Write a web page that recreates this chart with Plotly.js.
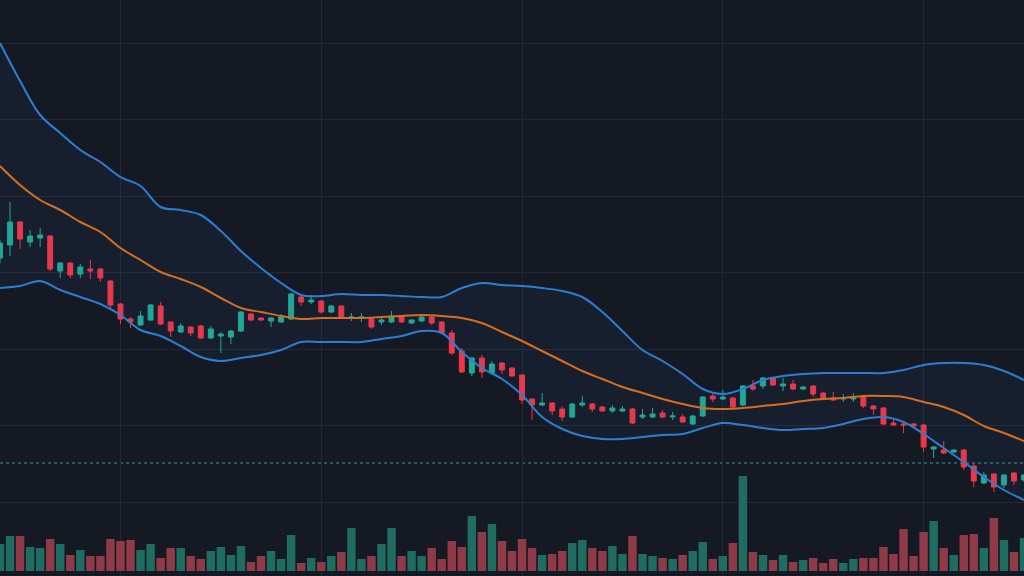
<!DOCTYPE html>
<html>
<head>
<meta charset="utf-8">
<script src="https://cdn.plot.ly/plotly-3.0.1.min.js"></script>
<style>
html,body{margin:0;padding:0;background:#151924;}
#chart{width:1024px;height:576px;}
</style>
</head>
<body>
<div id="chart"></div>
<script>
// candle index (time)
const idx = [0,1,2,3,4,5,6,7,8,9,10,11,12,13,14,15,16,17,18,19,20,21,22,23,24,25,26,27,28,29,30,31,32,33,34,35,36,37,38,39,40,41,42,43,44,45,46,47,48,49,50,51,52,53,54,55,56,57,58,59,60,61,62,63,64,65,66,67,68,69,70,71,72,73,74,75,76,77,78,79,80,81,82,83,84,85,86,87,88,89,90,91,92,93,94,95,96,97,98,99,100,101,102];

const open = [34.2,35.5,37.8,35.8,36.2,36.4,32.9,33.7,32.6,33.1,
  33.1,31.9,29.6,28.1,27.5,28.0,29.4,27.8,26.8,27.3,
  27.4,26.2,26.4,26.3,26.9,28.6,28.2,27.9,27.8,28.1,
  30.3,29.8,29.9,28.8,29.4,28.2,28.2,28.2,27.8,27.8,
  28.3,27.7,27.9,28.3,27.8,26.7,24.9,22.7,24.2,22.7,
  23.7,23.2,22.5,20.1,19.5,19.7,19.1,18.3,19.5,19.6,
  19.3,18.9,18.9,19.1,18.3,18.3,18.7,18.3,18.3,17.6,
  18.4,20.4,20.1,20.2,19.5,21.4,21.4,22.2,21.4,21.6,
  21.1,21.4,20.7,20.2,20.1,20.1,20.3,19.4,19.2,17.7,
  17.6,17.6,17.5,15.1,15.0,14.8,15.0,13.4,11.7,12.6,
  11.5,12.7,12.0];
const high = [36.0,39.8,37.9,37.0,37.2,36.5,33.8,33.8,33.6,34.0,
  33.2,32.0,29.7,28.3,28.9,29.6,29.8,27.9,27.7,27.4,
  27.5,27.4,26.8,27.0,28.9,28.7,28.3,28.3,28.6,30.7,
  30.5,30.5,30.0,29.5,29.5,28.7,28.7,28.3,28.2,28.9,
  28.4,28.1,28.6,28.4,27.9,27.0,25.2,24.3,24.5,23.9,
  23.8,23.3,22.6,20.2,20.7,19.8,19.4,19.7,20.4,19.7,
  19.4,19.5,19.4,19.2,19.1,19.2,19.0,18.8,18.6,18.5,
  20.4,20.6,21.0,20.3,21.5,22.0,22.3,22.3,22.2,22.0,
  21.4,21.5,20.8,20.8,20.6,20.7,20.4,19.5,19.3,18.1,
  17.7,17.7,17.6,15.4,15.9,15.1,15.1,13.7,12.8,12.7,
  12.6,12.8,12.6];
const low = [33.7,34.4,35.1,35.3,35.3,32.9,32.2,32.2,32.2,32.1,
  31.8,29.2,27.6,27.2,27.4,27.9,27.5,26.3,26.7,26.4,
  26.1,26.1,24.7,25.6,26.8,27.9,27.9,27.3,27.7,28.0,
  29.4,29.6,28.7,28.7,28.1,27.9,27.8,27.1,27.5,27.7,
  27.7,27.6,27.8,27.5,26.6,24.5,22.7,22.4,22.2,22.6,
  22.6,22.3,19.6,18.0,19.4,18.5,17.9,18.2,19.3,18.8,
  18.8,18.7,18.8,17.6,18.1,18.2,18.2,18.0,17.7,17.5,
  18.3,19.8,20.0,19.2,19.4,20.9,21.1,21.4,20.9,21.0,
  21.0,20.3,20.0,19.9,19.8,19.8,19.2,18.5,17.5,17.4,
  16.7,17.3,14.8,14.2,14.6,14.7,13.0,11.3,11.6,10.8,
  11.2,11.5,11.8];
const close = [35.7,37.8,36.1,36.4,36.5,33.1,33.7,32.5,33.3,32.9,
  32.2,29.5,28.1,27.8,28.4,29.5,27.6,26.9,27.4,26.7,
  26.2,27.1,26.6,26.9,28.8,28.0,28.0,28.2,28.3,30.6,
  29.8,30.0,28.8,29.4,28.2,28.3,28.3,27.3,28.0,28.4,
  27.8,28.0,28.3,27.7,26.7,24.7,22.8,24.2,22.8,23.6,
  23.0,22.4,20.0,19.5,19.7,18.9,18.3,19.6,19.7,19.1,
  18.9,19.2,19.1,17.7,18.5,18.6,18.3,18.4,17.8,18.4,
  20.3,20.1,20.3,19.3,21.4,21.1,22.2,21.5,21.6,21.1,
  21.3,20.6,20.1,20.0,20.2,20.2,19.4,19.1,17.6,17.5,
  17.5,17.4,15.3,15.3,14.7,15.0,13.3,11.9,12.5,11.3,
  12.5,11.9,12.5];
// volume, millions
const volume = [2.7,3.5,3.5,2.4,2.3,3.2,2.7,1.6,2.1,1.5,
  1.5,3.2,3.0,3.1,2.1,2.7,1.3,2.3,2.3,1.5,
  1.2,2.0,2.4,1.6,2.5,0.9,1.5,2.0,1.2,3.6,
  0.8,1.3,0.9,1.5,1.9,4.3,1.2,1.5,2.7,4.3,
  1.5,2.0,1.5,2.3,1.2,3.0,2.4,5.5,3.9,4.7,
  3.0,2.0,3.2,2.3,1.6,1.7,2.0,2.8,3.1,2.3,
  2.0,2.5,1.7,3.5,1.7,1.5,1.3,1.2,1.6,2.0,
  2.9,1.2,1.5,2.8,9.5,1.9,1.6,1.1,1.6,0.9,
  1.1,1.3,0.8,1.2,0.8,1.2,1.3,1.3,2.4,1.7,
  4.2,1.5,3.9,5.0,2.3,1.6,3.6,3.7,2.3,5.3,
  3.1,1.9,3.3];

// Bollinger band readings
const bandIdx = [0,2,4,6,8,10,12,14,16,18,20,22,24,26,28,30,32,34,36,38,40,42,44,46,48,50,52,54,56,58,60,62,64,66,68,70,72,74,76,78,80,82,84,86,88,90,92,94,96,98,100,102];
const upper = [55.7,51.9,48.5,46.7,45.0,43.8,42.3,41.4,39.3,39.0,38.5,36.9,34.9,33.2,31.7,30.5,30.4,30.6,30.5,30.5,30.4,30.3,30.3,31.2,31.7,31.5,31.4,31.2,30.9,30.3,28.8,26.9,25.0,23.9,22.6,21.1,20.6,21.1,22.0,22.4,22.6,22.7,22.7,22.7,22.7,23.0,23.5,23.7,23.7,23.5,22.9,22.0];
const middle = [43.4,41.5,40.0,39.0,37.8,36.8,35.2,34.0,32.8,32.1,31.3,30.2,29.2,28.8,28.4,28.1,28.2,28.2,28.2,28.3,28.4,28.5,28.4,28.2,27.7,26.8,25.9,24.9,23.9,22.9,22.1,21.3,20.7,20.1,19.6,19.2,19.1,19.2,19.4,19.6,19.9,20.1,20.2,20.4,20.4,20.3,19.8,19.3,18.5,17.4,16.7,15.9];
const lower = [31.2,31.4,31.9,31.0,30.3,29.6,28.5,27.0,26.4,25.4,24.3,23.9,24.2,24.5,25.0,25.8,25.8,25.8,25.8,26.1,26.4,26.9,26.7,24.8,23.2,22.1,20.5,18.3,17.1,16.4,16.1,16.1,16.3,16.5,16.6,17.2,17.7,17.5,17.2,17.0,17.1,17.2,17.6,18.1,18.3,17.8,16.6,15.2,13.8,12.3,11.0,10.0];

const priceLine = 13.7;
const gridIdx = [12,32,52,72,92];

const UP = '#22ab94', DOWN = '#f23645';
const volColors = idx.map((_, i) => close[i] >= open[i] ? '#1f6d60' : '#8f3a47');

const traces = [
  {type:'bar', x: idx, y: volume, yaxis:'y2', marker:{color: volColors, line:{width:0}}, hoverinfo:'skip'},
  {type:'scatter', mode:'lines', x: bandIdx, y: lower, line:{color:'#2b7fd2', width:2, shape:'spline'}, hoverinfo:'skip'},
  {type:'scatter', mode:'lines', x: bandIdx, y: upper, fill:'tonexty', fillcolor:'rgba(60,115,190,0.07)', line:{color:'#2b7fd2', width:2, shape:'spline'}, hoverinfo:'skip'},
  {type:'scatter', mode:'lines', x: bandIdx, y: middle, line:{color:'#d46f20', width:2, shape:'spline'}, hoverinfo:'skip'},
  {type:'candlestick', x: idx, open: open, high: high, low: low, close: close,
    increasing:{line:{color:UP, width:1}, fillcolor:UP},
    decreasing:{line:{color:DOWN, width:1}, fillcolor:DOWN},
    whiskerwidth:0, hoverinfo:'skip'}
];

const layout = {
  width:1024, height:576,
  margin:{l:0, r:0, t:0, b:0, pad:0},
  paper_bgcolor:'#151924', plot_bgcolor:'#151924',
  showlegend:false,
  bargap:0.16,
  xaxis:{range:[0,102], tickvals:gridIdx, showticklabels:false, ticks:'', showgrid:true, gridcolor:'#242835', gridwidth:1, zeroline:false, showline:false, rangeslider:{visible:false}, fixedrange:true},
  yaxis:{range:[2.4,60], tick0:9.8, dtick:7.65, showticklabels:false, ticks:'', showgrid:true, gridcolor:'#242835', gridwidth:1, zeroline:false, showline:false, fixedrange:true},
  yaxis2:{range:[-0.5,57.1], overlaying:'y', showgrid:false, showticklabels:false, zeroline:false, showline:false, fixedrange:true},
  shapes:[{type:'line', xref:'paper', x0:0, x1:1, yref:'y', y0:priceLine, y1:priceLine, line:{color:'#26a69a', width:1, dash:'dot'}, layer:'below'}]
};

Plotly.newPlot('chart', traces, layout, {displayModeBar:false, staticPlot:true});
</script>
</body>
</html>
